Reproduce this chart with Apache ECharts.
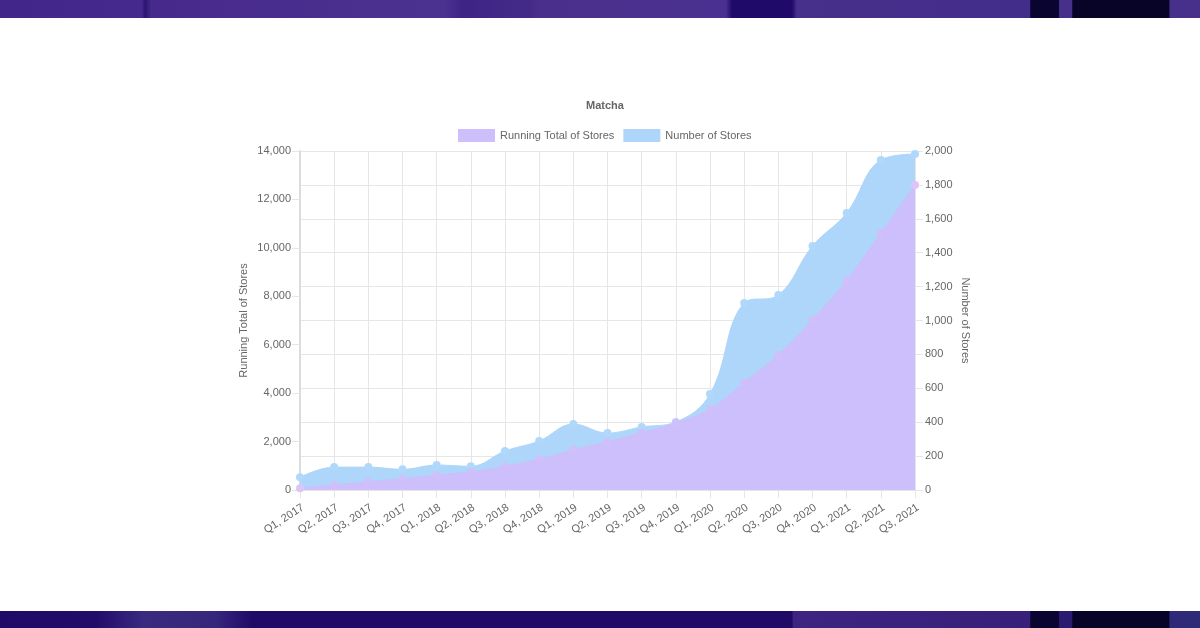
<!DOCTYPE html>
<html>
<head>
<meta charset="utf-8">
<style>html,body{margin:0;padding:0;background:#fff}#c{width:1200px;height:628px}</style>
<script src="https://cdn.jsdelivr.net/npm/echarts@6/dist/echarts.min.js"></script>
</head>
<body>
<div id="c"></div>
<script>
const categories = ["Q1, 2017","Q2, 2017","Q3, 2017","Q4, 2017","Q1, 2018","Q2, 2018","Q3, 2018","Q4, 2018","Q1, 2019","Q2, 2019","Q3, 2019","Q4, 2019","Q1, 2020","Q2, 2020","Q3, 2020","Q4, 2020","Q1, 2021","Q2, 2021","Q3, 2021"];
const numberOfStores = [75,135,135,122,147,140,230,289,389,336,372,401,566,1103,1150,1440,1634,1947,1982];
const runningTotal = [75,210,345,467,614,754,984,1273,1662,1998,2370,2771,3337,4440,5590,7030,8664,10611,12593];
const topBandStops = [[0,'#42268a'],[0.118,'#45298c'],[0.121,'#2c1570'],[0.126,'#47298c'],[0.37,'#4c3290'],[0.385,'#3e2485'],[0.44,'#442a88'],[0.45,'#4b2f8c'],[0.605,'#4a3090'],[0.61,'#1f0a6a'],[0.66,'#1f0a6a'],[0.664,'#46308c'],[0.858,'#432d8a'],[0.859,'#0a0530'],[0.882,'#0a0530'],[0.883,'#46308c'],[0.893,'#46308c'],[0.894,'#080428'],[0.974,'#080428'],[0.975,'#46308c'],[1,'#46308c']];
const bottomBandStops = [[0,'#1f0a68'],[0.08,'#220c6a'],[0.12,'#3a2a80'],[0.18,'#36267c'],[0.21,'#200a68'],[0.66,'#200a68'],[0.661,'#3c2480'],[0.858,'#371f7a'],[0.859,'#0a0530'],[0.882,'#0a0530'],[0.883,'#2a1a70'],[0.893,'#2a1a70'],[0.894,'#080428'],[0.974,'#080428'],[0.975,'#2f2a78'],[1,'#2f2a78']];

const textColor = '#666';
const gridColor = '#e6e6e6';
const blue = '#aed6fb';
const purple = '#cdbffb';
const endPurple = '#dcc6f8';
const fontFamily = '"Liberation Sans", Arial, sans-serif';
const fmt = v => Number(v).toLocaleString('en-US');
const band = stops => ({type:'linear',x:0,y:0,x2:1,y2:0,colorStops:stops.map(s=>({offset:s[0],color:s[1]}))});
const lastIndex = runningTotal.length - 1;

const chart = echarts.init(document.getElementById('c'), null, {renderer:'canvas'});
chart.setOption({
  animation:false,
  backgroundColor:'#fff',
  textStyle:{fontFamily},
  title:{text:'Matcha',left:600,top:95,textAlign:'center',textStyle:{fontSize:11,fontWeight:'bold',color:'#666',fontFamily}},
  legend:{
    top:124,left:453,itemWidth:37,itemHeight:13,itemGap:9,icon:'rect',
    data:[
      {name:'Running Total of Stores',itemStyle:{color:purple}},
      {name:'Number of Stores',itemStyle:{color:blue}}
    ],
    textStyle:{color:textColor,fontSize:11,fontFamily}
  },
  grid:{left:300,right:285,top:151,bottom:138,containLabel:false},
  xAxis:{
    type:'category',data:categories,boundaryGap:false,
    axisLine:{show:true,lineStyle:{color:gridColor}},
    axisTick:{show:true,length:8,alignWithLabel:true,lineStyle:{color:gridColor}},
    axisLabel:{color:textColor,fontSize:11,rotate:33,margin:12,interval:0,align:'right',verticalAlign:'top',fontFamily,hideOverlap:false},
    splitLine:{show:true,lineStyle:{color:gridColor}}
  },
  yAxis:[
    {type:'value',min:0,max:14000,interval:2000,position:'left',
     name:'Running Total of Stores',nameLocation:'middle',nameGap:51,nameRotate:90,nameMoveOverlap:false,
     nameTextStyle:{color:textColor,fontSize:11,fontFamily},
     axisLine:{show:true,lineStyle:{color:'#dcdcdc',width:2}},
     axisTick:{show:true,length:8,lineStyle:{color:gridColor}},
     axisLabel:{color:textColor,fontSize:11,margin:9,formatter:fmt,fontFamily},
     splitLine:{show:false}},
    {type:'value',min:0,max:2000,interval:200,position:'right',
     name:'Number of Stores',nameLocation:'middle',nameGap:45,nameRotate:-90,nameMoveOverlap:false,
     nameTextStyle:{color:textColor,fontSize:11,fontFamily},
     axisLine:{show:false},
     axisTick:{show:true,length:8,lineStyle:{color:gridColor}},
     axisLabel:{color:textColor,fontSize:11,margin:10,formatter:fmt,fontFamily},
     splitLine:{show:true,lineStyle:{color:gridColor}}}
  ],
  series:[
    {name:'Number of Stores',type:'line',yAxisIndex:1,data:numberOfStores,smooth:0.4,z:2,clip:false,
     symbol:'circle',symbolSize:8,showSymbol:true,
     itemStyle:{color:'#b0d8fb'},lineStyle:{color:blue,width:1},areaStyle:{color:blue,opacity:1}},
    {name:'Running Total of Stores',type:'line',yAxisIndex:0,
     data:runningTotal.map((v,i)=>(i===0||i===lastIndex)?{value:v,itemStyle:{color:endPurple}}:v),
     smooth:0.4,z:3,clip:false,
     symbol:'circle',symbolSize:8,showSymbol:true,
     itemStyle:{color:'#cfc0fb'},lineStyle:{color:purple,width:1},areaStyle:{color:purple,opacity:1}}
  ],
  graphic:[
    {type:'rect',shape:{x:0,y:0,width:1200,height:18},style:{fill:band(topBandStops)},silent:true},
    {type:'rect',shape:{x:0,y:611,width:1200,height:17},style:{fill:band(bottomBandStops)},silent:true}
  ]
});
</script>
</body>
</html>
